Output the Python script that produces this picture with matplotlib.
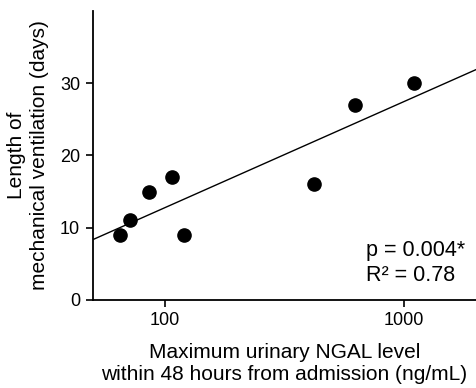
import numpy as np
import matplotlib.pyplot as plt

plt.rcParams['font.family'] = ['Liberation Sans', 'DejaVu Sans']

# maximum urinary NGAL (ng/mL) and ventilation length (days)
ngal = [65, 72, 86, 107, 121, 420, 625, 1100]
days = [9, 11, 15, 17, 9, 16, 27, 30]

x_ticks = [100, 1000]
x_tick_labels = ['100', '1000']
y_ticks = [0, 10, 20, 30]
p_text = 'p = 0.004*'
r2_text = 'R² = 0.78'

fig = plt.figure(figsize=(4.77, 3.88), dpi=100)
ax = fig.add_axes([0.194, 0.227, 0.804, 0.745])

ax.plot(ngal, days, 'o', color='black', ms=9.5, zorder=3)

# regression on log10(x)
slope, icpt = np.polyfit(np.log10(ngal), days, 1)
xl = np.array([50, 2000])
ax.plot(xl, slope * np.log10(xl) + icpt, color='black', lw=1.0)

ax.set_xscale('log')
ax.set_xlim(50, 2000)
ax.set_ylim(0, 40)
ax.set_xticks(x_ticks)
ax.set_xticklabels(x_tick_labels)
ax.xaxis.set_minor_locator(plt.NullLocator())
ax.set_yticks(y_ticks)

for s in ['top', 'right']:
    ax.spines[s].set_visible(False)
for s in ['left', 'bottom']:
    ax.spines[s].set_linewidth(1.3)
ax.tick_params(direction='out', length=5, width=1.2, labelsize=13, pad=4)

ax.set_xlabel('Maximum urinary NGAL level\nwithin 48 hours from admission (ng/mL)',
              fontsize=15, linespacing=1.2, labelpad=10)
ax.set_ylabel('Length of\nmechanical ventilation (days)',
              fontsize=15, linespacing=1.25, labelpad=8)

ax.text(0.713, 0.17, p_text, transform=ax.transAxes, fontsize=15.5, va='center')
ax.text(0.713, 0.085, r2_text, transform=ax.transAxes, fontsize=15.5, va='center')

fig.savefig('out.png', dpi=100)
